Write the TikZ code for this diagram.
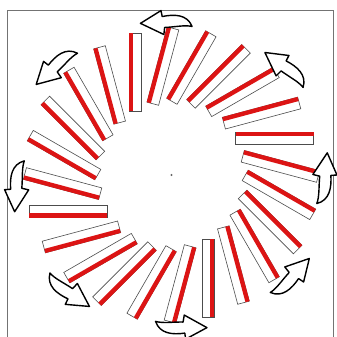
\documentclass[tikz,border=0pt]{standalone}
\definecolor{redstripe}{RGB}{220,20,20}
\tikzset{
  plate/.style={draw=black!70, line width=0.6pt, fill=white},
  stripe/.style={fill=redstripe},
  arr/.style={draw=black, line width=1.4pt, fill=white, line join=round},
  frameline/.style={draw=black!55, line width=0.8pt},
  pics/curvarrow/.style={code={
    \draw[arr] (-26,2) -- (-5,14) -- (-4,8)
      .. controls (8,10) and (21,9.5) .. (25.5,-3)
      .. controls (18,-1) and (8,-3) .. (-2,-3)
      -- (-3,-10) -- cycle;
  }}
}
\begin{document}
\begin{tikzpicture}[x=1pt,y=1pt]
\useasboundingbox (-171.5,-162) rectangle (165.5,175);
\draw[frameline] (-164.5,-170) -- (-164.5,164.5) -- (162,164.5) -- (162,-170);
\fill[black!60] (0,0) circle (1.2);
\foreach \a in {0,15,...,345} {
  \begin{scope}[rotate=\a]
    \draw[plate] (64,30.5) rectangle (142,42.5);
    \fill[stripe] (64,38.5) rectangle (142,42.8);
  \end{scope}
}
\pic[rotate=2.1] at (-5,150.6) {curvarrow};
\pic[rotate=42.6] at (-114.8,106.7) {curvarrow};
\pic[rotate=84.8] at (-152.5,-11) {curvarrow};
\pic[rotate=145.3] at (-102.3,-115) {curvarrow};
\pic[rotate=178.6] at (9.5,-150) {curvarrow};
\pic[rotate=226.6] at (118.5,-101) {curvarrow};
\pic[rotate=263.9] at (151,-3.5) {curvarrow};
\pic[rotate=323.1] at (113,105.3) {curvarrow};
\end{tikzpicture}
\end{document}
